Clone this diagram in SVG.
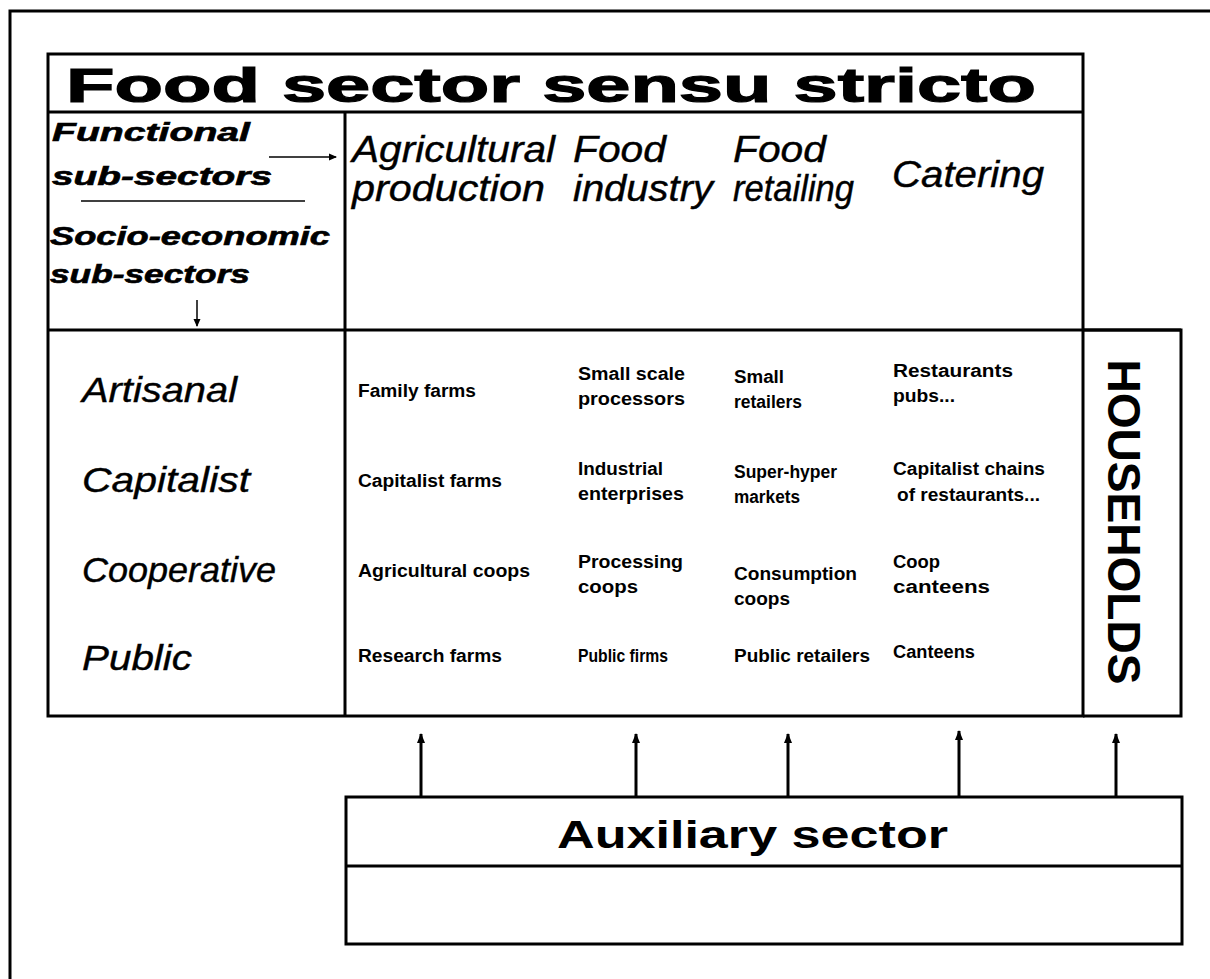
<svg xmlns="http://www.w3.org/2000/svg" width="1210" height="979" viewBox="0 0 1210 979">
<defs>
<marker id="ah" markerWidth="10" markerHeight="10" refX="9" refY="5" orient="auto" markerUnits="userSpaceOnUse">
<path d="M0,1 L10,5 L0,9 Z" fill="#000"/>
</marker>
<marker id="ahs" markerWidth="8" markerHeight="8" refX="7" refY="4" orient="auto" markerUnits="userSpaceOnUse">
<path d="M0,0.5 L8,4 L0,7.5 Z" fill="#000"/>
</marker>
</defs>
<style>
.box{fill:none;stroke:#000;stroke-width:3}
.ln{stroke:#000;stroke-width:3;fill:none}
.thin{stroke:#000;stroke-width:1.5;fill:none}
.title{font-family:"Liberation Sans",Arial,sans-serif;font-weight:bold;font-size:48px;stroke:#000;stroke-width:1.2}
.hdr{font-family:"Liberation Sans",Arial,sans-serif;font-weight:bold;font-style:italic;font-size:25px;stroke:#000;stroke-width:0.6}
.col{font-family:"Liberation Sans",Arial,sans-serif;font-style:italic;font-size:36px;stroke:#000;stroke-width:0.4}
.row{font-family:"Liberation Sans",Arial,sans-serif;font-style:italic;font-size:35px;stroke:#000;stroke-width:0.4}
.cell{font-family:"Liberation Sans",Arial,sans-serif;font-weight:bold;font-size:18px}
.big{font-family:"Liberation Sans",Arial,sans-serif;font-weight:bold;font-size:39px}
.hh{font-family:"Liberation Sans",Arial,sans-serif;font-weight:bold;font-size:46px}
</style>
<rect width="1210" height="979" fill="#fff"/>
<path class="ln" d="M10,979 V11 H1210"/>

<g id="food-sector">
<rect class="box" x="48" y="54" width="1035" height="662"/>
<line class="ln" x1="48" y1="112" x2="1083" y2="112"/>
<line class="ln" x1="345" y1="112" x2="345" y2="716"/>
<line class="ln" x1="48" y1="330" x2="1181" y2="330"/>
<text class="title" x="66" y="102" textLength="970" lengthAdjust="spacingAndGlyphs">Food sector sensu stricto</text>
</g>

<g id="legend">
<text class="hdr" x="52" y="141" textLength="198" lengthAdjust="spacingAndGlyphs">Functional</text>
<text class="hdr" x="52" y="185" textLength="220" lengthAdjust="spacingAndGlyphs">sub-sectors</text>
<line class="thin" x1="81" y1="201" x2="305" y2="201"/>
<text class="hdr" x="50" y="245" textLength="280" lengthAdjust="spacingAndGlyphs">Socio-economic</text>
<text class="hdr" x="50" y="283" textLength="200" lengthAdjust="spacingAndGlyphs">sub-sectors</text>
</g>

<g id="functional-subsectors">
<text class="col" x="352" y="162" textLength="203" lengthAdjust="spacingAndGlyphs">Agricultural</text>
<text class="col" x="352" y="201" textLength="193" lengthAdjust="spacingAndGlyphs">production</text>
<text class="col" x="573" y="162" textLength="93" lengthAdjust="spacingAndGlyphs">Food</text>
<text class="col" x="573" y="201" textLength="140" lengthAdjust="spacingAndGlyphs">industry</text>
<text class="col" x="733" y="162" textLength="93" lengthAdjust="spacingAndGlyphs">Food</text>
<text class="col" x="733" y="201" textLength="121" lengthAdjust="spacingAndGlyphs">retailing</text>
<text class="col" x="892" y="187" textLength="152" lengthAdjust="spacingAndGlyphs">Catering</text>
</g>

<g id="socio-economic-subsectors">
<text class="row" x="82" y="402" textLength="155" lengthAdjust="spacingAndGlyphs">Artisanal</text>
<text class="row" x="82" y="492" textLength="168" lengthAdjust="spacingAndGlyphs">Capitalist</text>
<text class="row" x="82" y="582" textLength="194" lengthAdjust="spacingAndGlyphs">Cooperative</text>
<text class="row" x="82" y="670" textLength="110" lengthAdjust="spacingAndGlyphs">Public</text>
</g>

<g id="cells">
<text class="cell" x="358" y="397" textLength="118" lengthAdjust="spacingAndGlyphs">Family farms</text>
<text class="cell" x="358" y="487" textLength="144" lengthAdjust="spacingAndGlyphs">Capitalist farms</text>
<text class="cell" x="358" y="577" textLength="172" lengthAdjust="spacingAndGlyphs">Agricultural coops</text>
<text class="cell" x="358" y="662" textLength="144" lengthAdjust="spacingAndGlyphs">Research farms</text>

<text class="cell" x="578" y="380" textLength="107" lengthAdjust="spacingAndGlyphs">Small scale</text>
<text class="cell" x="578" y="405" textLength="107" lengthAdjust="spacingAndGlyphs">processors</text>
<text class="cell" x="578" y="475" textLength="85" lengthAdjust="spacingAndGlyphs">Industrial</text>
<text class="cell" x="578" y="500" textLength="106" lengthAdjust="spacingAndGlyphs">enterprises</text>
<text class="cell" x="578" y="568" textLength="105" lengthAdjust="spacingAndGlyphs">Processing</text>
<text class="cell" x="578" y="593" textLength="60" lengthAdjust="spacingAndGlyphs">coops</text>
<text class="cell" x="578" y="662" textLength="90" lengthAdjust="spacingAndGlyphs">Public firms</text>

<text class="cell" x="734" y="383" textLength="50" lengthAdjust="spacingAndGlyphs">Small</text>
<text class="cell" x="734" y="408" textLength="68" lengthAdjust="spacingAndGlyphs">retailers</text>
<text class="cell" x="734" y="478" textLength="103" lengthAdjust="spacingAndGlyphs">Super-hyper</text>
<text class="cell" x="734" y="503" textLength="66" lengthAdjust="spacingAndGlyphs">markets</text>
<text class="cell" x="734" y="580" textLength="123" lengthAdjust="spacingAndGlyphs">Consumption</text>
<text class="cell" x="734" y="605" textLength="56" lengthAdjust="spacingAndGlyphs">coops</text>
<text class="cell" x="734" y="662" textLength="136" lengthAdjust="spacingAndGlyphs">Public retailers</text>

<text class="cell" x="893" y="377" textLength="120" lengthAdjust="spacingAndGlyphs">Restaurants</text>
<text class="cell" x="893" y="402" textLength="62" lengthAdjust="spacingAndGlyphs">pubs...</text>
<text class="cell" x="893" y="475" textLength="152" lengthAdjust="spacingAndGlyphs">Capitalist chains</text>
<text class="cell" x="897" y="501" textLength="143" lengthAdjust="spacingAndGlyphs">of restaurants...</text>
<text class="cell" x="893" y="568" textLength="47" lengthAdjust="spacingAndGlyphs">Coop</text>
<text class="cell" x="893" y="593" textLength="97" lengthAdjust="spacingAndGlyphs">canteens</text>
<text class="cell" x="893" y="658" textLength="82" lengthAdjust="spacingAndGlyphs">Canteens</text>
</g>

<g id="households">
<path class="ln" d="M1083,330 H1181 V716 H1083"/>
<text class="hh" transform="translate(1108,522) rotate(90)" x="0" y="0" text-anchor="middle" textLength="325" lengthAdjust="spacingAndGlyphs">HOUSEHOLDS</text>
</g>

<g id="auxiliary-sector">
<rect class="box" x="346" y="797" width="836" height="147"/>
<line class="ln" x1="346" y1="866" x2="1182" y2="866"/>
<text class="big" x="557" y="848" textLength="391" lengthAdjust="spacingAndGlyphs">Auxiliary sector</text>
</g>

<g id="connectors">
<line class="thin" x1="269" y1="157" x2="336" y2="157" marker-end="url(#ahs)"/>
<line class="thin" x1="197" y1="300" x2="197" y2="326" marker-end="url(#ahs)"/>
<line class="ln" x1="421" y1="797" x2="421" y2="734" marker-end="url(#ah)"/>
<line class="ln" x1="636" y1="797" x2="636" y2="734" marker-end="url(#ah)"/>
<line class="ln" x1="788" y1="797" x2="788" y2="734" marker-end="url(#ah)"/>
<line class="ln" x1="959" y1="797" x2="959" y2="731" marker-end="url(#ah)"/>
<line class="ln" x1="1116" y1="797" x2="1116" y2="734" marker-end="url(#ah)"/>
</g>
</svg>
